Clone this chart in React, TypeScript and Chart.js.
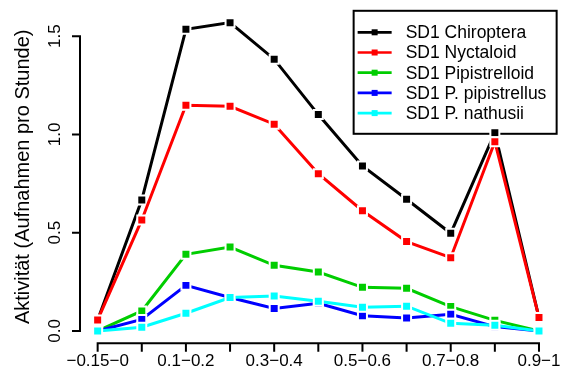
import React, { useEffect, useRef } from "react";
import { Chart, registerables } from "chart.js";

Chart.register(...registerables);

const categories = ["−0.15−0", "0−0.1", "0.1−0.2", "0.2−0.3", "0.3−0.4", "0.4−0.5", "0.5−0.6", "0.6−0.7", "0.7−0.8", "0.8−0.9", "0.9−1"];
const seriesNames = ["SD1 Chiroptera", "SD1 Nyctaloid", "SD1 Pipistrelloid", "SD1 P. pipistrellus", "SD1 P. nathusii"];
const seriesColors = ["#000000", "#FF0000", "#00CD00", "#0000FF", "#00FFFF"];
const chiroptera = [0.056, 0.667, 1.535, 1.569, 1.383, 1.101, 0.84, 0.67, 0.497, 1.009, 0.068];
const nyctaloid = [0.056, 0.565, 1.149, 1.143, 1.052, 0.8, 0.612, 0.455, 0.373, 0.963, 0.068];
const pipistrelloid = [0.0, 0.102, 0.39, 0.427, 0.334, 0.3, 0.222, 0.217, 0.124, 0.054, 0.0];
const pPipistrellus = [0.0, 0.059, 0.232, 0.17, 0.114, 0.141, 0.078, 0.066, 0.085, 0.022, 0.0];
const pNathusii = [0.0, 0.019, 0.09, 0.17, 0.178, 0.151, 0.121, 0.126, 0.039, 0.029, 0.0];
const yTicks = [0, 0.5, 1.0, 1.5];
const yTitle = "Aktivität (Aufnahmen pro Stunde)";

const FONT = '"Liberation Sans", Arial, Helvetica, sans-serif';

const allSeries = [chiroptera, nyctaloid, pipistrelloid, pPipistrellus, pNathusii];

const rPlugin = {
  id: "rStyle",
  beforeDatasetsDraw(chart: any) {
    const ctx = chart.ctx;
    const area = chart.chartArea;
    // legend (top right of plot region)
    const w = 203;
    const h = 123;
    const left = area.right - w;
    const top = area.top + 0.5;
    ctx.save();
    ctx.fillStyle = "#fff";
    ctx.fillRect(left, top, w, h);
    ctx.lineWidth = 2;
    ctx.strokeStyle = "#000";
    ctx.strokeRect(left, top, w, h);
    ctx.font = `17.5px ${FONT}`;
    ctx.textBaseline = "middle";
    ctx.textAlign = "left";
    chart.data.datasets.forEach((ds: any, i: number) => {
      const y = top + 21.5 + i * 20.2;
      ctx.strokeStyle = ds.borderColor;
      ctx.lineWidth = 2.7;
      ctx.beginPath();
      ctx.moveTo(left + 4, y);
      ctx.lineTo(left + 38, y);
      ctx.stroke();
      ctx.fillStyle = ds.borderColor;
      ctx.fillRect(left + 21 - 3, y - 3, 6, 6);
      ctx.fillStyle = "#000";
      ctx.fillText(ds.label, left + 52, y + 1);
    });
    ctx.restore();
  },
  afterDraw(chart: any) {
    const ctx = chart.ctx;
    const xs = chart.scales.x;
    const ys = chart.scales.y;
    const area = chart.chartArea;
    ctx.save();
    ctx.strokeStyle = "#000";
    ctx.lineWidth = 2;
    ctx.lineCap = "butt";
    // y axis
    const yAxisX = area.left;
    ctx.beginPath();
    ctx.moveTo(yAxisX, ys.getPixelForValue(yTicks[0]) + 1);
    ctx.lineTo(yAxisX, ys.getPixelForValue(yTicks[yTicks.length - 1]) - 1);
    yTicks.forEach((t) => {
      const py = ys.getPixelForValue(t);
      ctx.moveTo(yAxisX + 1, py);
      ctx.lineTo(yAxisX - 8, py);
    });
    ctx.stroke();
    // x axis
    const xAxisY = area.bottom;
    ctx.beginPath();
    ctx.moveTo(xs.getPixelForValue(1) - 1, xAxisY);
    ctx.lineTo(xs.getPixelForValue(categories.length) + 1, xAxisY);
    categories.forEach((_, i) => {
      const px = xs.getPixelForValue(i + 1);
      ctx.moveTo(px, xAxisY - 1);
      ctx.lineTo(px, xAxisY + 8.5);
    });
    ctx.stroke();
    // labels
    ctx.fillStyle = "#000";
    ctx.font = `17px ${FONT}`;
    ctx.textAlign = "center";
    ctx.textBaseline = "middle";
    categories.forEach((c, i) => {
      if (i % 2 !== 0) return;
      ctx.fillText(c, xs.getPixelForValue(i + 1), xAxisY + 18);
    });
    yTicks.forEach((t) => {
      ctx.save();
      ctx.translate(54, ys.getPixelForValue(t));
      ctx.rotate(-Math.PI / 2);
      ctx.fillText(t.toFixed(1), 0, 1);
      ctx.restore();
    });
    ctx.save();
    ctx.font = `20px ${FONT}`;
    ctx.translate(22, (area.top + area.bottom) / 2);
    ctx.rotate(-Math.PI / 2);
    ctx.fillText(yTitle, 0, 1);
    ctx.restore();
    ctx.restore();
  },
};

export default function App() {
  const ref = useRef<HTMLCanvasElement>(null);
  useEffect(() => {
    document.body.style.margin = "0";
    const all = allSeries.flat();
    const ymin = Math.min(...all);
    const ymax = Math.max(...all);
    const pad = 0.04 * (ymax - ymin);
    const n = categories.length;
    const xpad = 0.04 * (n - 1);
    const chart = new Chart(ref.current!, {
      type: "line",
      data: {
        datasets: allSeries.map((vals, i) => ({
          label: seriesNames[i],
          data: vals.map((v, j) => ({ x: j + 1, y: v })),
          borderColor: seriesColors[i],
          backgroundColor: seriesColors[i],
          borderWidth: 3,
          pointStyle: "rect",
          pointRadius: 6.36,
          pointBorderWidth: 2,
          pointBorderColor: "#ffffff",
          pointBackgroundColor: seriesColors[i],
          tension: 0,
          fill: false,
          order: allSeries.length - i,
        })),
      },
      options: {
        animation: false,
        responsive: false,
        events: [],
        layout: { padding: { left: 80, right: 5.5, top: 10.3, bottom: 37.7 } },
        plugins: { legend: { display: false }, tooltip: { enabled: false } },
        scales: {
          x: { type: "linear", min: 1 - xpad, max: n + xpad, display: false },
          y: { type: "linear", min: ymin - pad, max: ymax + pad, display: false },
        },
      },
      plugins: [rPlugin],
    });
    return () => chart.destroy();
  }, []);
  return (
    <div style={{ width: 565, height: 381, background: "#fff" }}>
      <canvas ref={ref} width={565} height={381} style={{ display: "block" }} />
    </div>
  );
}
